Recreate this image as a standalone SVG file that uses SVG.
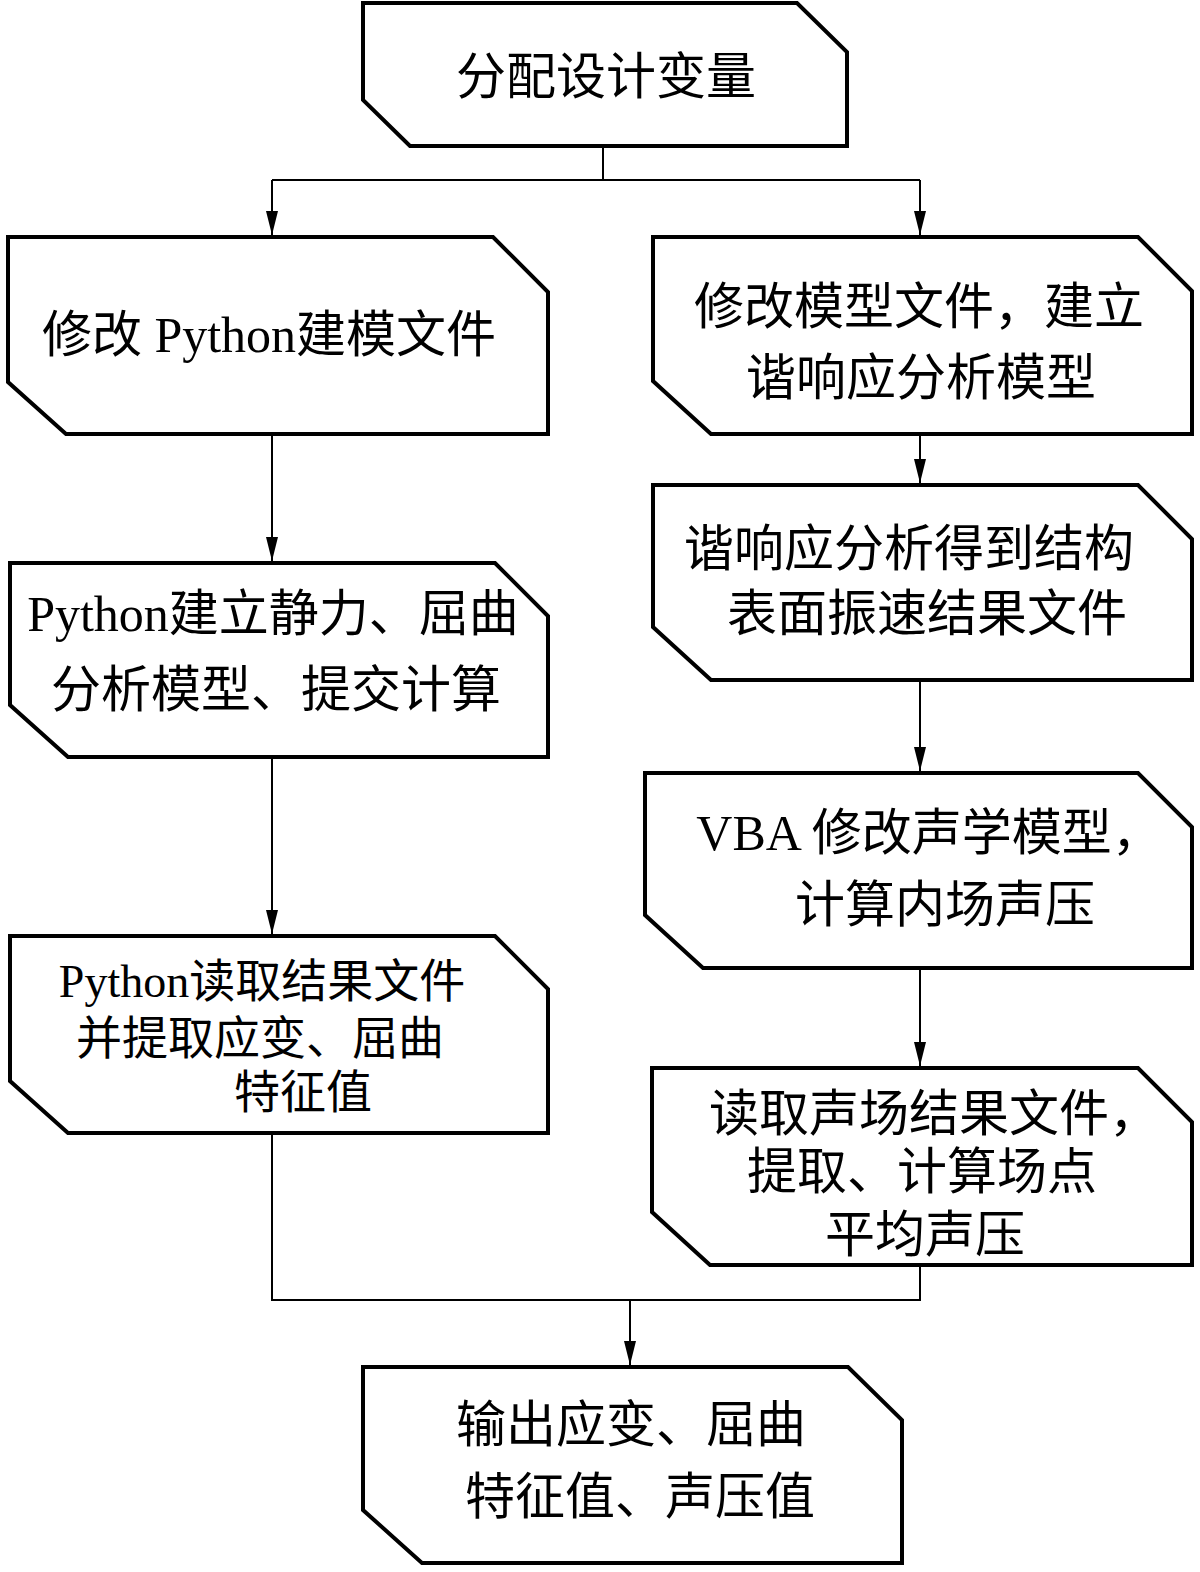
<svg xmlns="http://www.w3.org/2000/svg" width="1200" height="1572" viewBox="0 0 1200 1572">
<style>
.box{fill:#fff;stroke:#000;stroke-width:4;stroke-linejoin:miter}
.con{fill:none;stroke:#000;stroke-width:2}
.t{font-family:"Liberation Serif","Noto Sans CJK SC",serif;font-size:50px;fill:#000;text-anchor:middle;dominant-baseline:central}
.s{font-size:46px}
</style>
<defs>
<marker id="ah" markerUnits="userSpaceOnUse" markerWidth="24" markerHeight="12" viewBox="0 0 24 12" refX="24" refY="6" orient="auto">
<path d="M0,0 L24,6 L0,12 z" fill="#000"/>
</marker>
</defs>
<rect width="1200" height="1572" fill="#fff"/>
<g id="connectors">
<path class="con" d="M603,148 V180 M272,180 H920"/>
<path class="con" d="M272,180 V235" marker-end="url(#ah)"/>
<path class="con" d="M920,180 V235" marker-end="url(#ah)"/>
<path class="con" d="M272,436 V561" marker-end="url(#ah)"/>
<path class="con" d="M272,759 V934" marker-end="url(#ah)"/>
<path class="con" d="M920,436 V483" marker-end="url(#ah)"/>
<path class="con" d="M920,682 V771" marker-end="url(#ah)"/>
<path class="con" d="M920,970 V1066" marker-end="url(#ah)"/>
<path class="con" d="M272,1135 V1300 H920 V1267"/>
<path class="con" d="M630,1300 V1365" marker-end="url(#ah)"/>
</g>
<g id="n0">
<polygon class="box" points="363,3 797,3 847,52 847,146 410,146 363,100"/>
<text class="t" x="606" y="77">分配设计变量</text>
</g>
<g id="n1">
<polygon class="box" points="8,237 493,237 548,292 548,434 66,434 8,382"/>
<text class="t" x="269" y="335">修改 Python建模文件</text>
</g>
<g id="n2">
<polygon class="box" points="653,237 1138,237 1192,291 1192,434 711,434 653,381"/>
<text class="t" x="919" y="307">修改模型文件，建立</text>
<text class="t" x="921" y="378">谐响应分析模型</text>
</g>
<g id="n3">
<polygon class="box" points="10,563 495,563 548,616 548,757 68,757 10,705"/>
<text class="t" x="273" y="614">Python建立静力、屈曲</text>
<text class="t" x="276" y="690">分析模型、提交计算</text>
</g>
<g id="n4">
<polygon class="box" points="653,485 1138,485 1192,539 1192,680 711,680 653,627"/>
<text class="t" x="909" y="549">谐响应分析得到结构</text>
<text class="t" x="927" y="614">表面振速结果文件</text>
</g>
<g id="n5">
<polygon class="box" points="645,773 1138,773 1192,827 1192,968 703,968 645,915"/>
<text class="t" x="929" y="833">VBA 修改声学模型，</text>
<text class="t" x="945" y="905">计算内场声压</text>
</g>
<g id="n6">
<polygon class="box" points="10,936 495,936 548,989 548,1133 68,1133 10,1081"/>
<text class="t s" x="262" y="981">Python读取结果文件</text>
<text class="t s" x="260" y="1038">并提取应变、屈曲</text>
<text class="t s" x="303" y="1092">特征值</text>
</g>
<g id="n7">
<polygon class="box" points="652,1068 1138,1068 1192,1122 1192,1265 710,1265 652,1212"/>
<text class="t" x="934" y="1114">读取声场结果文件，</text>
<text class="t" x="922" y="1172">提取、计算场点</text>
<text class="t" x="925" y="1235">平均声压</text>
</g>
<g id="n8">
<polygon class="box" points="363,1367 848,1367 902,1420 902,1563 422,1563 363,1510"/>
<text class="t" x="631" y="1425">输出应变、屈曲</text>
<text class="t" x="640" y="1497">特征值、声压值</text>
</g>
</svg>
